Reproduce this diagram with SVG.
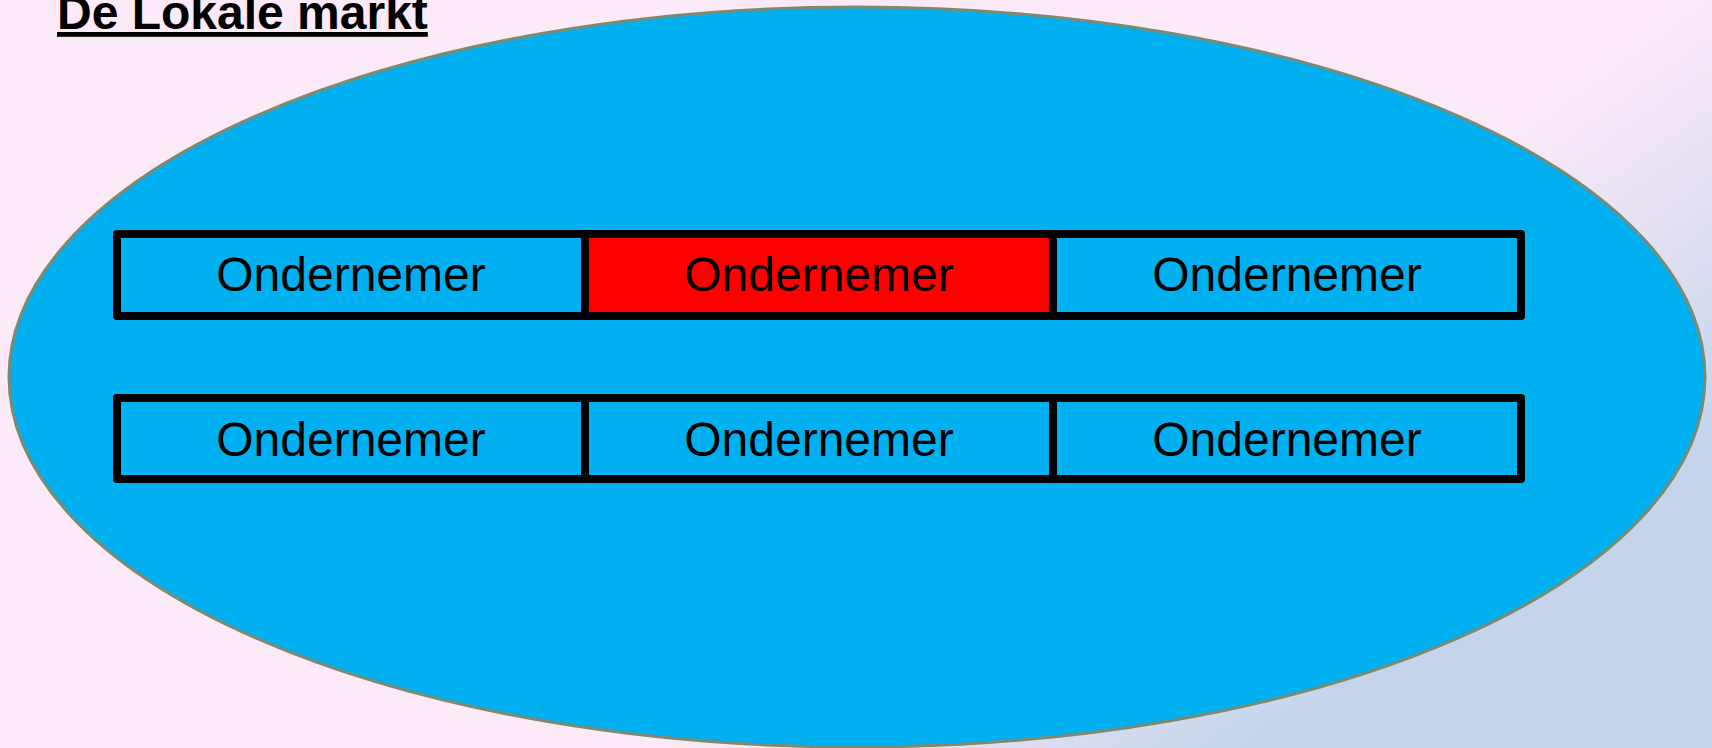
<svg xmlns="http://www.w3.org/2000/svg" width="1712" height="748" viewBox="0 0 1712 748">
  <defs>
    <linearGradient id="bg" gradientUnits="userSpaceOnUse" x1="573" y1="797" x2="784" y2="1090">
      <stop offset="0" stop-color="#FCEAF8"/>
      <stop offset="0.45" stop-color="#E6E1F3"/>
      <stop offset="1" stop-color="#C4D5EB"/>
    </linearGradient>
    <style>
      .cell { stroke: #000000; stroke-width: 8; stroke-linejoin: round; }
      .blue { fill: #00B0F0; }
      .red { fill: #FF0000; }
      .lbl { font-family: "Liberation Sans", Arial, sans-serif; font-size: 48px; fill: #000000; text-anchor: middle; }
      .title { font-family: "Liberation Sans", Arial, sans-serif; font-size: 48px; font-weight: bold; fill: #000000; text-decoration: underline; }
    </style>
  </defs>
  <rect x="0" y="0" width="1712" height="748" fill="url(#bg)"/>

  <g id="market">
    <ellipse cx="857" cy="377" rx="848" ry="370" fill="#00B0F0" stroke="#7D8A72" stroke-width="3"/>
  </g>

  <g id="title">
    <text class="title" x="57" y="29">De Lokale markt</text>
  </g>

  <g id="node-r1c1">
    <rect class="cell blue" x="117" y="234" width="468" height="82"/>
    <text class="lbl" x="351" y="291">Ondernemer</text>
  </g>
  <g id="node-r1c2">
    <rect class="cell red" x="585" y="234" width="468" height="82"/>
    <text class="lbl" x="819" y="291">Ondernemer</text>
  </g>
  <g id="node-r1c3">
    <rect class="cell blue" x="1053" y="234" width="468" height="82"/>
    <text class="lbl" x="1287" y="291">Ondernemer</text>
  </g>
  <g id="node-r2c1">
    <rect class="cell blue" x="117" y="398" width="468" height="81"/>
    <text class="lbl" x="351" y="456">Ondernemer</text>
  </g>
  <g id="node-r2c2">
    <rect class="cell blue" x="585" y="398" width="468" height="81"/>
    <text class="lbl" x="819" y="456">Ondernemer</text>
  </g>
  <g id="node-r2c3">
    <rect class="cell blue" x="1053" y="398" width="468" height="81"/>
    <text class="lbl" x="1287" y="456">Ondernemer</text>
  </g>

  <g id="connectors"></g>
</svg>
